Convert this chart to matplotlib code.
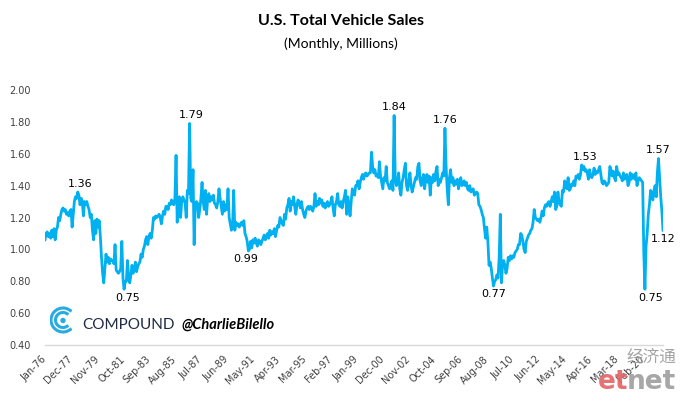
import numpy as np
import pandas as pd
import matplotlib
matplotlib.use("Agg")
import matplotlib.pyplot as plt
from matplotlib.patches import Arc, Circle

# monthly total vehicle sales, millions, Jan-76 .. Aug-21
y1976 = [1.06, 1.10, 1.11, 1.08, 1.10, 1.07, 1.12, 1.08, 1.13, 1.06, 1.12, 1.14]
y1977 = [1.20, 1.18, 1.22, 1.25, 1.26, 1.24, 1.25, 1.22, 1.23, 1.21, 1.24, 1.25]
y1978 = [1.14, 1.22, 1.30, 1.33, 1.32, 1.36, 1.34, 1.28, 1.32, 1.30, 1.21, 1.30]
y1979 = [1.28, 1.30, 1.27, 1.25, 1.20, 1.22, 1.12, 1.06, 1.18, 1.10, 1.19, 1.14]
y1980 = [1.18, 1.08, 0.95, 0.85, 0.79, 0.88, 0.97, 0.92, 0.95, 0.91, 0.94, 0.93]
y1981 = [0.93, 0.91, 1.03, 0.87, 0.86, 0.85, 0.86, 0.88, 1.05, 0.82, 0.75, 0.80]
y1982 = [0.80, 0.93, 0.82, 0.79, 0.84, 0.90, 0.85, 0.87, 0.92, 0.86, 0.89, 0.91]
y1983 = [0.92, 0.97, 0.95, 1.00, 1.02, 1.06, 1.08, 1.03, 1.08, 1.10, 1.07, 1.12]
y1984 = [1.20, 1.19, 1.21, 1.20, 1.21, 1.22, 1.20, 1.16, 1.21, 1.24, 1.22, 1.27]
y1985 = [1.27, 1.25, 1.29, 1.28, 1.31, 1.29, 1.28, 1.32, 1.59, 1.17, 1.30, 1.33]
y1986 = [1.20, 1.30, 1.33, 1.31, 1.29, 1.20, 1.37, 1.35, 1.79, 1.32, 1.30, 1.50]
y1987 = [1.03, 1.27, 1.30, 1.29, 1.20, 1.25, 1.32, 1.42, 1.30, 1.25, 1.37, 1.22]
y1988 = [1.32, 1.35, 1.30, 1.33, 1.31, 1.34, 1.29, 1.28, 1.26, 1.30, 1.38, 1.32]
y1989 = [1.27, 1.22, 1.30, 1.24, 1.28, 1.25, 1.38, 1.20, 1.16, 1.12, 1.14, 1.37]
y1990 = [1.12, 1.17, 1.15, 1.16, 1.14, 1.16, 1.17, 1.15, 1.18, 1.10, 1.08, 1.05]
y1991 = [0.99, 1.00, 1.05, 1.01, 1.06, 1.04, 1.07, 1.04, 1.02, 1.06, 1.05, 1.03]
y1992 = [1.05, 1.07, 1.09, 1.06, 1.08, 1.10, 1.07, 1.12, 1.09, 1.11, 1.10, 1.13]
y1993 = [1.08, 1.12, 1.15, 1.14, 1.20, 1.18, 1.16, 1.15, 1.22, 1.19, 1.26, 1.28]
y1994 = [1.32, 1.24, 1.30, 1.28, 1.33, 1.27, 1.22, 1.28, 1.31, 1.29, 1.26, 1.30]
y1995 = [1.25, 1.22, 1.20, 1.24, 1.26, 1.27, 1.25, 1.27, 1.26, 1.24, 1.27, 1.35]
y1996 = [1.27, 1.30, 1.28, 1.32, 1.29, 1.31, 1.27, 1.29, 1.26, 1.28, 1.30, 1.27]
y1997 = [1.28, 1.30, 1.33, 1.26, 1.21, 1.28, 1.30, 1.35, 1.28, 1.27, 1.30, 1.26]
y1998 = [1.30, 1.33, 1.37, 1.22, 1.33, 1.28, 1.21, 1.30, 1.38, 1.35, 1.34, 1.40]
y1999 = [1.40, 1.43, 1.38, 1.42, 1.45, 1.47, 1.44, 1.47, 1.48, 1.46, 1.47, 1.48]
y2000 = [1.48, 1.61, 1.52, 1.48, 1.50, 1.46, 1.47, 1.45, 1.55, 1.46, 1.42, 1.38]
y2001 = [1.45, 1.43, 1.52, 1.42, 1.40, 1.38, 1.41, 1.43, 1.37, 1.84, 1.45, 1.40]
y2002 = [1.42, 1.48, 1.38, 1.34, 1.42, 1.45, 1.50, 1.54, 1.40, 1.37, 1.42, 1.48]
y2003 = [1.40, 1.36, 1.39, 1.42, 1.45, 1.44, 1.52, 1.54, 1.43, 1.40, 1.44, 1.47]
y2004 = [1.38, 1.44, 1.47, 1.42, 1.46, 1.34, 1.45, 1.42, 1.47, 1.43, 1.49, 1.52]
y2005 = [1.40, 1.44, 1.42, 1.45, 1.48, 1.46, 1.76, 1.52, 1.38, 1.28, 1.45, 1.50]
y2006 = [1.42, 1.45, 1.40, 1.43, 1.41, 1.44, 1.38, 1.42, 1.45, 1.40, 1.41, 1.43]
y2007 = [1.40, 1.42, 1.38, 1.37, 1.40, 1.36, 1.37, 1.38, 1.34, 1.35, 1.36, 1.35]
y2008 = [1.28, 1.27, 1.25, 1.22, 1.20, 1.13, 1.07, 1.14, 1.05, 0.90, 0.92, 0.88]
y2009 = [0.82, 0.77, 0.80, 0.81, 0.84, 0.82, 0.95, 1.22, 0.79, 0.91, 0.93, 0.90]
y2010 = [0.85, 0.88, 0.95, 0.93, 0.96, 0.94, 0.96, 0.95, 0.98, 0.99, 1.00, 1.03]
y2011 = [1.03, 1.10, 1.09, 1.05, 1.00, 0.98, 1.05, 1.07, 1.09, 1.10, 1.12, 1.13]
y2012 = [1.17, 1.25, 1.20, 1.19, 1.18, 1.19, 1.17, 1.20, 1.24, 1.21, 1.26, 1.28]
y2013 = [1.27, 1.29, 1.30, 1.27, 1.30, 1.33, 1.30, 1.36, 1.25, 1.27, 1.36, 1.30]
y2014 = [1.28, 1.27, 1.37, 1.36, 1.43, 1.40, 1.38, 1.45, 1.37, 1.38, 1.41, 1.40]
y2015 = [1.43, 1.40, 1.46, 1.45, 1.47, 1.44, 1.47, 1.53, 1.50, 1.52, 1.49, 1.50]
y2016 = [1.48, 1.44, 1.50, 1.46, 1.45, 1.47, 1.51, 1.47, 1.49, 1.48, 1.50, 1.52]
y2017 = [1.47, 1.42, 1.41, 1.43, 1.42, 1.40, 1.41, 1.42, 1.52, 1.50, 1.46, 1.49]
y2018 = [1.45, 1.43, 1.52, 1.47, 1.48, 1.46, 1.45, 1.43, 1.48, 1.44, 1.46, 1.47]
y2019 = [1.40, 1.42, 1.48, 1.44, 1.47, 1.46, 1.44, 1.48, 1.40, 1.43, 1.45, 1.44]
y2020 = [1.43, 1.42, 0.98, 0.75, 1.02, 1.10, 1.22, 1.28, 1.37, 1.35, 1.31, 1.37]
y2021 = [1.40, 1.33, 1.48, 1.57, 1.45, 1.33, 1.24, 1.12]

years = [y1976, y1977, y1978, y1979, y1980, y1981, y1982, y1983, y1984, y1985,
         y1986, y1987, y1988, y1989, y1990, y1991, y1992, y1993, y1994, y1995,
         y1996, y1997, y1998, y1999, y2000, y2001, y2002, y2003, y2004, y2005,
         y2006, y2007, y2008, y2009, y2010, y2011, y2012, y2013, y2014, y2015,
         y2016, y2017, y2018, y2019, y2020, y2021]
sales = [v for yr in years for v in yr]
n = len(sales)
dates = pd.date_range("1976-01-01", periods=n, freq="MS")
tick_labels = [d.strftime("%b-%y") for d in dates]

# points that carry a value label: (month index, above/below, x shift px)
labelled = [(29, 1, 2), (70, -1, 4), (128, 1, 2), (180, -1, -3), (309, 1, 0),
            (354, 1, 0), (397, -1, 0), (475, 1, 3), (531, -1, 6), (543, 1, 0),
            (547, -1, 0)]

W, H = 681, 397
fig = plt.figure(figsize=(W / 100, H / 100), dpi=100)
ax = fig.add_axes([45 / W, 52 / H, 618 / W, 255 / H])

x = np.arange(n)
ax.plot(x, sales, color="#00B0F0", lw=2.0, solid_joinstyle="round", zorder=3)

ax.set_xlim(0, n - 1)
ax.set_ylim(0.4, 2.0)
ax.set_yticks(np.arange(0.4, 2.01, 0.2))
ax.set_yticklabels(["%.2f" % t for t in np.arange(0.4, 2.01, 0.2)])
ax.set_xticks(x[::23])
ax.set_xticklabels(tick_labels[::23], rotation=45, ha="right",
                   rotation_mode="anchor", va="center")
ax.tick_params(axis="both", length=0, labelsize=7, colors="#404040")
ax.tick_params(axis="x", pad=9)
ax.tick_params(axis="y", pad=10)

for s in ["top", "right", "left"]:
    ax.spines[s].set_visible(False)
ax.spines["bottom"].set_color("#D9D9D9")
ax.spines["bottom"].set_linewidth(1.0)

for i, side, dx in labelled:
    ax.annotate("%.2f" % sales[i], (i, sales[i]),
                xytext=(dx * 0.72, side * 6.0), textcoords="offset points",
                ha="center", va="center", fontsize=8, color="#000000", zorder=4)

fig.text(0.5, 1 - 21 / H, "U.S. Total Vehicle Sales", ha="center", va="center",
         fontsize=11.5, fontweight="bold", family="Lato")
fig.text(0.5, 1 - 44 / H, "(Monthly, Millions)", ha="center", va="center",
         fontsize=10, family="Lato")

# COMPOUND logo
lax = fig.add_axes([50 / W, 63 / H, 22 / W, 28 / H])
lax.set_xlim(0, 22)
lax.set_ylim(0, 28)
lax.axis("off")
lax.add_patch(Arc((13, 14), 24, 24, theta1=45, theta2=315, color="#29ABE2", lw=2.2))
lax.add_patch(Arc((13, 14), 15, 15, theta1=45, theta2=315, color="#29ABE2", lw=2.2))
lax.add_patch(Circle((13, 13.5), 2.0, color="#29ABE2"))
fig.text(82 / W, 1 - 325 / H, "COMPOUND", ha="left", va="center",
         fontsize=11, color="#1F2A44", family="Lato")
fig.text(181 / W, 1 - 325 / H, "@CharlieBilello", ha="left", va="center",
         fontsize=10.5, fontweight="bold", style="italic", color="#000000",
         family="Lato")

# etnet watermark
fig.text(651 / W, 1 - 357 / H, "经济通", ha="center", va="center", fontsize=12,
         color="#9A9A9A", family=["Noto Sans CJK SC", "DejaVu Sans"], alpha=0.9)
fig.text(628 / W, 1 - 382 / H, "et", ha="right", va="center", fontsize=19,
         fontweight="bold", color="#E36464", family="DejaVu Sans", alpha=0.9)
fig.text(627 / W, 1 - 382 / H, "net", ha="left", va="center", fontsize=19,
         fontweight="bold", color="#9E9E9E", family="DejaVu Sans", alpha=0.9)

fig.savefig("out.png", dpi=100)
